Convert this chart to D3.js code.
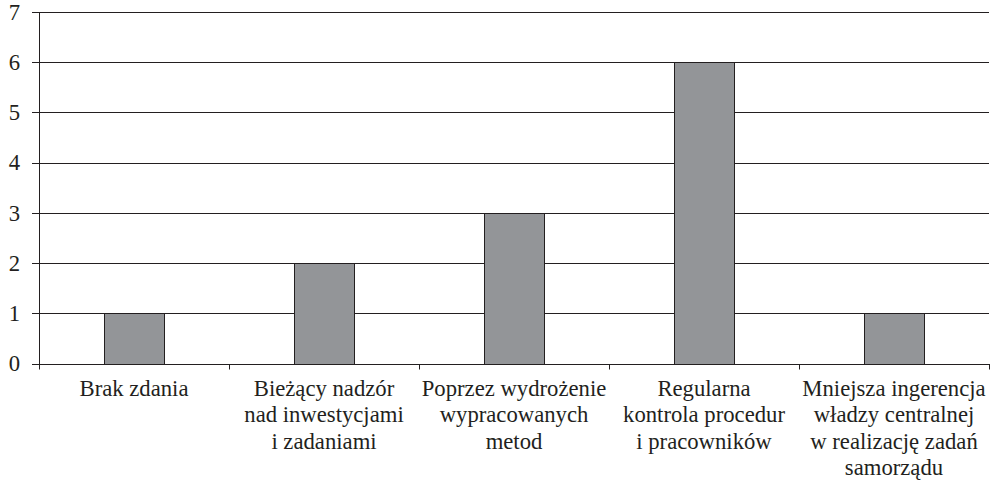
<!DOCTYPE html>
<html><head><meta charset="utf-8">
<script src="https://cdn.jsdelivr.net/npm/d3@7"></script>
<style>html,body{margin:0;padding:0;background:#fff;} text{font-family:"Liberation Serif","Times New Roman",serif;}</style>
</head><body>
<svg id="c" width="995" height="483"></svg>
<script>
const categories = [
  "Brak zdania",
  "Bieżący nadzór\nnad inwestycjami\ni zadaniami",
  "Poprzez wydrożenie\nwypracowanych\nmetod",
  "Regularna\nkontrola procedur\ni pracowników",
  "Mniejsza ingerencja\nwładzy centralnej\nw realizację zadań\nsamorządu"
];
const values = [1, 2, 3, 6, 1];
const yTicks = [0, 1, 2, 3, 4, 5, 6, 7];

(function() {
const svg = d3.select("#c");
const pLeft = 39, pRight = 989, pTop = 12, pBottom = 363.5;
const fs = 22.7;
const ink = "#231f20";

const x = d3.scaleBand().domain(categories).range([pLeft, pRight]).paddingInner(130/190).paddingOuter(65/190);
const xb = d3.scaleBand().domain(categories).range([pLeft, pRight]).padding(0);
const y = d3.scaleLinear().domain([0, 7]).range([pBottom, pTop]);

// gridlines
svg.append("g").selectAll("line").data(yTicks).join("line")
  .attr("x1", pLeft - 7).attr("x2", pRight)
  .attr("y1", d => Math.round(y(d)) + 0.5).attr("y2", d => Math.round(y(d)) + 0.5)
  .attr("stroke", ink).attr("stroke-width", 1);

// bars
svg.append("g").selectAll("rect").data(values).join("rect")
  .attr("x", (d, i) => Math.round(x(categories[i])) + 0.5)
  .attr("width", Math.round(x.bandwidth()))
  .attr("y", d => Math.round(y(d)) + 0.5)
  .attr("height", d => Math.round(y(0)) - Math.round(y(d)))
  .attr("fill", "#939598").attr("stroke", ink).attr("stroke-width", 1);

// y axis line
svg.append("line").attr("x1", pLeft + 0.5).attr("x2", pLeft + 0.5)
  .attr("y1", pTop).attr("y2", pBottom + 6).attr("stroke", ink);

// y tick labels
svg.append("g").selectAll("text").data(yTicks).join("text")
  .attr("x", 20).attr("y", d => y(d)).attr("dy", "0.34em")
  .attr("text-anchor", "end").attr("font-size", fs)
  .attr("fill", ink).text(d => d);

// category boundary ticks
const bounds = categories.map(c => xb(c) + xb.bandwidth());
svg.append("g").selectAll("line").data(bounds).join("line")
  .attr("x1", d => Math.round(d) + 0.5).attr("x2", d => Math.round(d) + 0.5)
  .attr("y1", Math.round(pBottom)).attr("y2", pBottom + 6)
  .attr("stroke", ink);

// category labels
const lbl = svg.append("g").selectAll("text").data(categories).join("text")
  .attr("text-anchor", "middle").attr("font-size", fs)
  .attr("fill", ink);
lbl.each(function(c) {
  const t = d3.select(this);
  c.split("\n").forEach((line, j) => {
    t.append("tspan").attr("x", x(c) + x.bandwidth() / 2).attr("y", 396 + j * 26.3).text(line);
  });
});
})();
</script>
</body></html>
